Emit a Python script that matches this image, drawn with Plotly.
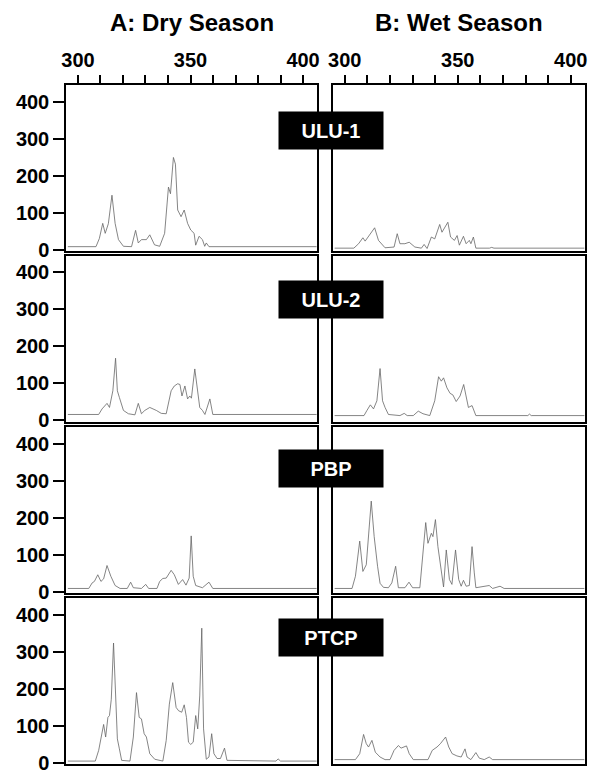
import plotly.graph_objects as go

# ---------------- data ----------------
site_labels = ["ULU-1", "ULU-2", "PBP", "PTCP"]
season_titles = ["A: Dry Season", "B: Wet Season"]
x_tick_values = [300, 310, 320, 330, 340, 350, 360, 370, 380, 390, 400]
x_tick_text = ["300", "", "", "", "", "350", "", "", "", "", "400"]
y_tick_values = [0, 100, 200, 300, 400]

dry_ulu1_x = [295.5, 308, 309.5, 311, 312.1, 313.5, 315.1, 316.5, 318, 320.2, 323.8, 325.6, 326.8, 328.2, 330.4, 331.9, 334, 336.3, 338.5, 339.5, 340.2, 341.1, 342.4, 343.3, 344.3, 345.8, 347.2, 348.7, 350.1, 351.6, 352.3, 353.8, 355.3, 356.3, 357, 358.2, 406]
dry_ulu1_y = [8, 8, 30, 71, 44, 70, 147, 71, 27, 9, 8, 52, 18, 27, 27, 40, 13, 9, 44, 133, 169, 151, 249, 231, 107, 89, 107, 71, 53, 44, 12, 36, 27, 9, 18, 8, 8]

wet_ulu1_x = [295.5, 304, 306.1, 308, 309, 313.2, 314.9, 317.8, 321.8, 323.2, 324.4, 326.6, 328.5, 331, 333.9, 335.1, 336.4, 338.3, 339.8, 342, 343, 345.6, 346.8, 348.5, 349.7, 350.7, 352.5, 353.7, 355.1, 355.8, 356.9, 358, 364, 365, 366, 380, 382, 386, 388, 406]
wet_ulu1_y = [4, 4, 16, 32, 23, 59, 25, 5, 7, 43, 16, 16, 20, 7, 4, 14, 3, 34, 29, 68, 47, 74, 34, 25, 38, 12, 36, 16, 25, 16, 34, 4, 4, 6, 4, 4, 6, 6, 4, 4]

dry_ulu2_x = [295.5, 309.2, 310.7, 312.9, 314, 315.5, 316.7, 317.5, 318.4, 320.2, 322.4, 325.3, 326.8, 328.2, 329.7, 331.9, 334.8, 337, 339.2, 341.4, 342.8, 344.3, 345.3, 346.2, 347.5, 348.7, 349.7, 350.4, 351.9, 353.1, 354.1, 355.3, 356.4, 358.6, 359.9, 406]
dry_ulu2_y = [16, 16, 31, 46, 35, 80, 168, 80, 62, 27, 18, 15, 46, 18, 27, 35, 27, 19, 18, 80, 93, 99, 97, 66, 93, 58, 66, 60, 139, 80, 35, 27, 16, 58, 16, 16]

wet_ulu2_x = [295.5, 308.5, 309.8, 311.3, 312.7, 314.2, 315.6, 316.7, 317.8, 319.3, 324.4, 326.3, 327.6, 330.3, 332.5, 334.6, 337.6, 339.8, 341.5, 342.7, 343.7, 345.2, 346.6, 347.8, 349.3, 351, 352.6, 353.9, 354.7, 356.3, 358, 381, 381.7, 382.5, 406]
wet_ulu2_y = [13, 13, 27, 42, 31, 53, 140, 53, 35, 16, 13, 19, 13, 13, 25, 18, 13, 53, 118, 106, 115, 88, 73, 69, 51, 66, 97, 53, 35, 40, 13, 13, 17, 13, 13]

dry_pbp_x = [295.5, 304.8, 306.3, 307.3, 308.8, 310.2, 311.4, 312.9, 314.6, 316.5, 318.7, 321.9, 323.4, 324.6, 328.2, 330.1, 331.4, 335.1, 336.3, 337.7, 339.2, 341.4, 342.8, 344.6, 346.5, 348, 349.4, 350.3, 351.2, 352.3, 355.3, 358.2, 359.9, 406]
dry_pbp_y = [10, 10, 25, 29, 47, 29, 36, 72, 43, 18, 10, 10, 27, 12, 10, 21, 10, 10, 29, 37, 38, 59, 47, 21, 34, 19, 38, 152, 43, 18, 12, 27, 10, 10]

wet_pbp_x = [295.5, 303.2, 304.7, 306.6, 308, 309.5, 311.7, 313, 314.5, 315.6, 317.1, 319.3, 320.8, 322.5, 323.7, 326.6, 328.4, 330, 333.2, 334.6, 335.8, 336.8, 338.3, 339, 340.1, 341.2, 342.7, 343.7, 344.9, 346.3, 347.4, 349, 350.4, 351.5, 352.5, 353.7, 355.1, 356.3, 357.3, 358, 363.9, 365.4, 368.7, 370.5, 406]
wet_pbp_y = [10, 10, 43, 138, 56, 74, 246, 150, 70, 24, 13, 12, 25, 70, 12, 12, 27, 12, 12, 96, 188, 132, 159, 150, 196, 123, 52, 14, 114, 34, 21, 114, 34, 16, 32, 16, 18, 123, 52, 12, 18, 10, 16, 10, 10]

dry_ptcp_x = [295.5, 307.7, 309.2, 310.7, 311.4, 312.3, 313.3, 314, 314.8, 315.8, 316.7, 317.5, 318.4, 319.4, 323.1, 324.6, 326, 327.2, 328.2, 329.4, 330.4, 331.9, 334.1, 337.7, 339.2, 340.6, 342.1, 342.8, 343.6, 344.7, 346.1, 347.2, 348.2, 349.1, 350.1, 351.2, 352.3, 353.2, 354.1, 355, 355.8, 357, 358.2, 359.4, 360.4, 361.8, 363.3, 365.1, 366.2, 388, 388.9, 390, 406]
dry_ptcp_y = [5, 5, 34, 83, 104, 70, 123, 128, 172, 324, 195, 65, 38, 7, 5, 70, 190, 123, 119, 79, 70, 25, 10, 5, 61, 159, 217, 186, 150, 141, 137, 157, 123, 56, 50, 56, 128, 92, 181, 364, 92, 10, 16, 79, 25, 12, 12, 40, 7, 5, 11, 5, 5]

wet_ptcp_x = [295.5, 304.7, 306.6, 308.3, 309.5, 310.5, 312, 313.5, 315.6, 317.8, 320, 321.8, 323.7, 324.9, 327.3, 328.5, 330.3, 336.8, 338.7, 340.8, 342.3, 344.6, 346, 347.5, 349.6, 351.5, 353.2, 354.1, 355.8, 358, 359.5, 361.7, 363.9, 365.4, 406]
wet_ptcp_y = [9, 9, 25, 77, 52, 43, 61, 29, 16, 9, 9, 34, 47, 40, 46, 25, 9, 9, 34, 43, 52, 70, 43, 25, 19, 16, 38, 16, 9, 28, 13, 9, 16, 9, 9]

panels = [
    [(dry_ulu1_x, dry_ulu1_y), (wet_ulu1_x, wet_ulu1_y)],
    [(dry_ulu2_x, dry_ulu2_y), (wet_ulu2_x, wet_ulu2_y)],
    [(dry_pbp_x, dry_pbp_y), (wet_pbp_x, wet_pbp_y)],
    [(dry_ptcp_x, dry_ptcp_y), (wet_ptcp_x, wet_ptcp_y)],
]

# ---------------- layout geometry (pixels) ----------------
W, H = 589, 778
col_px = [(62, 316), (332, 587)]
row_px = [(86, 254), (259, 427), (433, 601), (606, 774)]
label_center_y = [132.5, 303, 474.5, 645.5]
x_range = [294.8, 406.3]
y_range = [-3, 445]

FONT = "Liberation Sans, Arial, Helvetica, sans-serif"
fig = go.Figure()
layout = dict(
    width=W, height=H, margin=dict(l=0, r=0, t=0, b=0),
    paper_bgcolor="white", plot_bgcolor="white", showlegend=False,
    font=dict(family=FONT, color="black"),
)

idx = 0
for r in range(4):
    for c in range(2):
        idx += 1
        xs, ys = panels[r][c]
        xa = "x" if idx == 1 else f"x{idx}"
        ya = "y" if idx == 1 else f"y{idx}"
        fig.add_trace(go.Scatter(
            x=xs, y=ys, mode="lines", xaxis=xa, yaxis=ya,
            line=dict(color="#666666", width=0.8), hoverinfo="skip",
        ))
        x0, x1 = col_px[c]
        yt, yb = row_px[r]
        xdom = [x0 / W, x1 / W]
        ydom = [1 - yb / H, 1 - yt / H]
        xkey = "xaxis" if idx == 1 else f"xaxis{idx}"
        ykey = "yaxis" if idx == 1 else f"yaxis{idx}"
        xax = dict(
            domain=xdom, range=x_range, anchor=ya, showgrid=False, zeroline=False,
            showline=True, linecolor="black", linewidth=2, mirror=True,
            fixedrange=True,
        )
        if r == 0:
            xax.update(side="top", ticks="outside", tickvals=x_tick_values, ticktext=x_tick_text,
                       ticklen=8, tickwidth=2, tickcolor="black",
                       tickfont=dict(family=FONT, size=20, color="black", weight="bold"))
        else:
            xax.update(showticklabels=False, ticks="")
        yax = dict(
            domain=ydom, range=y_range, anchor=xa, showgrid=False, zeroline=False,
            showline=True, linecolor="black", linewidth=2, mirror=True,
            fixedrange=True,
        )
        if c == 0:
            yax.update(ticks="outside", tickvals=y_tick_values, ticklen=11, tickwidth=2,
                       tickcolor="black",
                       tickfont=dict(family=FONT, size=20, color="black", weight="bold"))
        else:
            yax.update(showticklabels=False, ticks="")
        layout[xkey] = xax
        layout[ykey] = yax

annotations = []
for c, title in enumerate(season_titles):
    cx = (col_px[c][0] + col_px[c][1]) / 2
    annotations.append(dict(
        text=title, x=cx / W, y=1 - 23 / H, xref="paper", yref="paper",
        xanchor="center", yanchor="middle", showarrow=False,
        font=dict(family=FONT, size=24, color="black", weight="bold"),
    ))
for r, lab in enumerate(site_labels):
    annotations.append(dict(
        text=lab, x=329.7 / W, y=1 - label_center_y[r] / H, xref="paper", yref="paper",
        xanchor="center", yanchor="middle", showarrow=False,
        bgcolor="black", width=100, height=33, borderpad=2,
        font=dict(family=FONT, size=20, color="white", weight="bold"),
    ))
layout["annotations"] = annotations

fig.update_layout(**layout)
fig.write_html(
    "out.html",
    config={"displayModeBar": False, "staticPlot": True},
    post_script="document.body.style.margin='0';document.body.style.overflow='hidden';",
)
